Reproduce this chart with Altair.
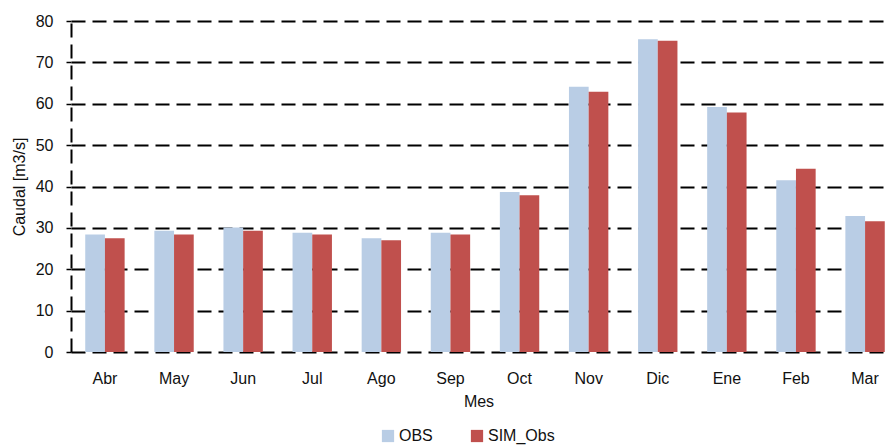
import altair as alt
import pandas as pd

months = ["Abr", "May", "Jun", "Jul", "Ago", "Sep", "Oct", "Nov", "Dic", "Ene", "Feb", "Mar"]
obs = [28.4, 29.3, 30.1, 28.8, 27.5, 28.8, 38.7, 64.1, 75.6, 59.2, 41.5, 32.9]
sim = [27.5, 28.4, 29.3, 28.4, 27.0, 28.4, 37.9, 62.9, 75.2, 57.9, 44.3, 31.6]
series = ["OBS", "SIM_Obs"]
colors = ["#B9CDE5", "#C0504D"]

rows = []
for i, m in enumerate(months):
    rows.append({"Mes": m, "Serie": series[0], "Valor": obs[i], "ord": 0})
    rows.append({"Mes": m, "Serie": series[1], "Valor": sim[i], "ord": 1})
df = pd.DataFrame(rows)

FONT = "Liberation Sans"

chart = alt.Chart(df).mark_bar().encode(
    x=alt.X("Mes:N", sort=months, title="Mes",
            scale=alt.Scale(paddingInner=0.43, paddingOuter=0.112, align=0.92),
            axis=alt.Axis(labelAngle=0, domain=False, ticks=False, grid=False,
                          labelFontSize=16, labelPadding=18, titleFontSize=16,
                          titlePadding=7, titleFontWeight="normal",
                          labelColor="#111", titleColor="#111")),
    xOffset=alt.XOffset("Serie:N", sort=series, scale=alt.Scale(paddingInner=0, paddingOuter=0)),
    y=alt.Y("Valor:Q", title="Caudal [m3/s]",
            scale=alt.Scale(domain=[0, 80], nice=False),
            axis=alt.Axis(values=list(range(0, 81, 10)), grid=True, gridColor="#000",
                          gridDash=[14, 7], gridWidth=2, gridOpacity=1,
                          domain=True, domainColor="#000", domainDash=[14, 7], domainWidth=2,
                          ticks=True, tickColor="#000", tickSize=5, tickWidth=1.5,
                          labelFontSize=16, labelPadding=13, titleFontSize=16,
                          titleFontWeight="normal", titlePadding=8,
                          labelColor="#111", titleColor="#111")),
    color=alt.Color("Serie:N", scale=alt.Scale(domain=series, range=colors),
                    legend=alt.Legend(title=None, orient="none", direction="horizontal",
                                      legendX=309, legendY=407, symbolType="square",
                                      symbolSize=150, symbolStrokeWidth=0, labelFontSize=16,
                                      labelOffset=3, columnPadding=36, labelColor="#111")),
    order=alt.Order("ord:Q"),
).properties(
    width=815, height=331,
    autosize=alt.AutoSizeParams(type="none"),
    padding={"left": 63, "top": 13, "right": 0, "bottom": 93},
).configure(font=FONT).configure_view(stroke=None)

chart.save("out.html", embed_options={"renderer": "svg", "actions": False})
